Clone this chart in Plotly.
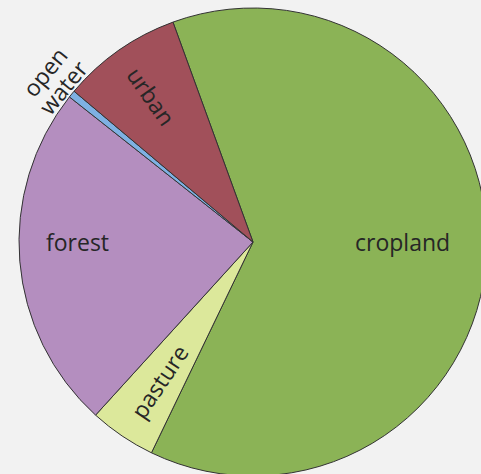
import math
import plotly.graph_objects as go

# Land use shares (percent), listed clockwise from the top-left
categories = ["cropland", "pasture", "forest", "open water", "urban"]
shares = [62.7, 4.6, 23.9, 0.5, 8.3]
colors = ["#8BB356", "#DCE89B", "#B48EBF", "#7EB1E3", "#A1505A"]

# Figure geometry (pixels)
W, H = 490, 480
CX, CY, R = 253, 242, 234
ROTATION = -20  # degrees, first slice starts 20 degrees left of 12 o'clock

# Label placement: radius as a fraction of the pie radius, orientation,
# and an optional fixed angle (degrees, counter-clockwise from 3 o'clock)
label_style = {
    "cropland": dict(r=0.64, orient="horizontal", angle=0),
    "forest": dict(r=0.75, orient="horizontal", angle=180),
    "urban": dict(r=0.76, orient="radial"),
    "pasture": dict(r=0.72, orient="radial"),
    "open water": dict(r=1.10, orient="tangential"),
}

FONT = "Open Sans, Noto Sans, Arial, sans-serif"
FONT_SIZE = 23
TEXT_COLOR = "#262626"

fig = go.Figure(
    go.Pie(
        labels=categories,
        values=shares,
        sort=False,
        direction="clockwise",
        rotation=ROTATION,
        marker=dict(colors=colors, line=dict(color="#333333", width=1)),
        textinfo="none",
        hoverinfo="label+percent",
        showlegend=False,
        domain=dict(
            x=[(CX - R) / W, (CX + R) / W],
            y=[1 - (CY + R) / H, 1 - (CY - R) / H],
        ),
    )
)


def to_paper(px, py):
    return px / W, 1 - py / H


# Slice mid-angles derived from the data (math convention)
total = sum(shares)
start = 90 - ROTATION
mid_angles = {}
for name, v in zip(categories, shares):
    span = 360 * v / total
    mid_angles[name] = start - span / 2
    start -= span

annotations = []
for name in categories:
    st = label_style[name]
    theta = st.get("angle", mid_angles[name] % 360)
    t = math.radians(theta)
    px = CX + st["r"] * R * math.cos(t)
    py = CY - st["r"] * R * math.sin(t)
    if st["orient"] == "radial":
        rot = 180 - theta
        if rot > 180:
            rot -= 360
        if rot < -180:
            rot += 360
        lines = [name]
    elif st["orient"] == "tangential":
        rot = 90 - theta
        lines = name.split(" ")
    else:
        rot = 0
        lines = [name]
    # stack multi-line labels perpendicular to the text direction
    n = len(lines)
    spacing = 24
    rr = math.radians(rot)
    nx, ny = -math.sin(rr), math.cos(rr)
    for i, line in enumerate(lines):
        off = (i - (n - 1) / 2) * spacing
        x, y = to_paper(px + nx * off, py + ny * off)
        annotations.append(
            dict(
                x=x, y=y, xref="paper", yref="paper",
                text=line, showarrow=False, textangle=rot,
                xanchor="center", yanchor="middle",
                font=dict(family=FONT, size=FONT_SIZE, color=TEXT_COLOR),
            )
        )

fig.update_layout(
    width=W,
    height=H,
    margin=dict(l=0, r=0, t=0, b=0),
    paper_bgcolor="#F2F2F2",
    plot_bgcolor="#F2F2F2",
    annotations=annotations,
)

fig.write_html(
    "out.html",
    post_script=(
        "document.documentElement.style.overflow='hidden';"
        "document.body.style.overflow='hidden';"
        "document.body.style.margin='0';"
    ),
)
